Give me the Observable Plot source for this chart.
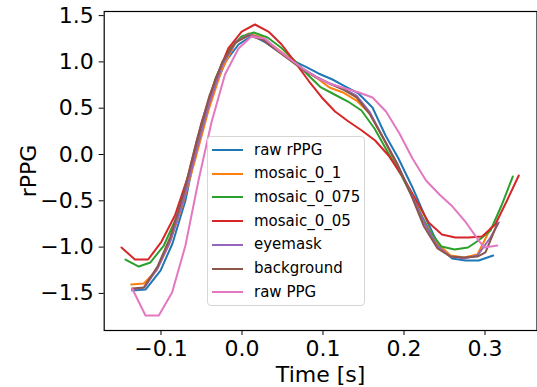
<!DOCTYPE html>
<html><head><meta charset="utf-8">
<script src="https://cdn.jsdelivr.net/npm/d3@7"></script>
<script src="https://cdn.jsdelivr.net/npm/@observablehq/plot@0.6"></script>
<style>
html,body{margin:0;padding:0;background:#fff;}
#wrap{position:relative;width:537px;height:387px;font-family:"DejaVu Sans",sans-serif;}
#legend{position:absolute;left:207px;top:136px;width:158px;height:170px;box-sizing:border-box;border:1px solid #d6d6d6;border-radius:4px;background:rgba(255,255,255,0.8);}
.row{position:absolute;left:0;height:24px;display:flex;align-items:center;}
.sw{width:31px;height:2px;margin-left:4px;}
.lb{margin-left:11px;font-size:15px;color:#000;white-space:nowrap;line-height:1;}
</style></head><body><div id="wrap"></div>
<script>
const seriesNames = ["raw rPPG","mosaic_0_1","mosaic_0_075","mosaic_0_05","eyemask","background","raw PPG"];
const seriesColors = ["#1f77b4","#ff7f0e","#2ca02c","#d62728","#9467bd","#8c564b","#e377c2"];
const xTicks = [-0.1, 0.0, 0.1, 0.2, 0.3];
const yTicks = [-1.5, -1.0, -0.5, 0.0, 0.5, 1.0, 1.5];

const tRawRPPG = [-0.1356,-0.1191,-0.1006,-0.0858,-0.0698,-0.0537,-0.0364,-0.0204,-0.0043,0.0126,0.0290,0.0451,0.0623,0.0784,0.0944,0.1117,0.1278,0.1438,0.1611,0.1772,0.1932,0.2105,0.2265,0.2426,0.2595,0.2759,0.2923,0.3101];
const vRawRPPG = [-1.469,-1.458,-1.253,-0.961,-0.497,0.184,0.659,1.004,1.188,1.285,1.210,1.112,1.015,0.950,0.875,0.810,0.734,0.659,0.508,0.205,-0.043,-0.356,-0.680,-0.983,-1.123,-1.145,-1.145,-1.091];

const tMosaic01 = [-0.1368,-0.1212,-0.1056,-0.0895,-0.0735,-0.0574,-0.0414,-0.0253,-0.0086,0.0080,0.0247,0.0414,0.0580,0.0747,0.0914,0.1080,0.1247,0.1414,0.1580,0.1747,0.1914,0.2080,0.2247,0.2414,0.2574,0.2741,0.2907,0.3074];
const vMosaic01 = [-1.404,-1.393,-1.253,-0.961,-0.551,-0.043,0.475,0.907,1.199,1.307,1.263,1.156,1.048,0.929,0.832,0.724,0.670,0.583,0.443,0.173,-0.119,-0.389,-0.713,-0.961,-1.091,-1.112,-1.080,-0.788];

const tMosaic0075 = [-0.1438,-0.1274,-0.1130,-0.0965,-0.0809,-0.0648,-0.0488,-0.0327,-0.0167,-0.0006,0.0146,0.0315,0.0481,0.0648,0.0809,0.0975,0.1142,0.1309,0.1475,0.1636,0.1802,0.1969,0.2130,0.2296,0.2463,0.2623,0.2790,0.2920,0.3068,0.3204,0.3343];
const vMosaic0075 = [-1.134,-1.210,-1.166,-0.983,-0.680,-0.227,0.346,0.821,1.123,1.274,1.317,1.263,1.156,1.015,0.864,0.724,0.648,0.572,0.475,0.281,0.022,-0.227,-0.508,-0.799,-0.994,-1.026,-1.004,-0.929,-0.821,-0.551,-0.238];

const tMosaic005 = [-0.1488,-0.1322,-0.1158,-0.0993,-0.0828,-0.0663,-0.0499,-0.0333,-0.0169,-0.0004,0.0160,0.0326,0.0490,0.0656,0.0820,0.0985,0.1149,0.1315,0.1479,0.1644,0.1809,0.1974,0.2138,0.2304,0.2468,0.2633,0.2798,0.2963,0.3127,0.3272,0.3417];
const vMosaic005 = [-1.004,-1.134,-1.134,-0.940,-0.659,-0.227,0.346,0.799,1.145,1.328,1.404,1.328,1.188,0.994,0.799,0.616,0.464,0.356,0.259,0.151,-0.011,-0.227,-0.475,-0.734,-0.864,-0.896,-0.896,-0.886,-0.756,-0.497,-0.227];

const tEyemask = [-0.1356,-0.1204,-0.1043,-0.0883,-0.0722,-0.0562,-0.0401,-0.0241,-0.0080,0.0080,0.0247,0.0414,0.0580,0.0747,0.0914,0.1080,0.1247,0.1414,0.1580,0.1747,0.1914,0.2080,0.2247,0.2414,0.2574,0.2741,0.2907,0.3068,0.3170];
const vEyemask = [-1.458,-1.436,-1.231,-0.929,-0.497,0.043,0.562,0.972,1.210,1.296,1.253,1.145,1.037,0.929,0.842,0.767,0.713,0.637,0.454,0.173,-0.097,-0.410,-0.734,-0.994,-1.102,-1.123,-1.091,-0.896,-0.734];

const tBackground = [-0.1356,-0.1212,-0.1043,-0.0883,-0.0722,-0.0562,-0.0401,-0.0241,-0.0080,0.0080,0.0247,0.0414,0.0580,0.0747,0.0914,0.1080,0.1247,0.1414,0.1580,0.1747,0.1914,0.2080,0.2247,0.2414,0.2574,0.2741,0.2907,0.3006,0.3154];
const vBackground = [-1.447,-1.436,-1.210,-0.886,-0.421,0.140,0.637,1.004,1.210,1.285,1.242,1.134,1.026,0.918,0.832,0.767,0.702,0.616,0.432,0.173,-0.097,-0.421,-0.778,-1.015,-1.102,-1.112,-1.102,-1.058,-0.745];

const tRawPPG = [-0.1356,-0.1191,-0.1027,-0.0863,-0.0698,-0.0537,-0.0377,-0.0210,-0.0043,0.0117,0.0284,0.0451,0.0617,0.0784,0.0944,0.1111,0.1278,0.1444,0.1611,0.1778,0.1944,0.2105,0.2272,0.2438,0.2599,0.2765,0.2932,0.2994,0.3151];
const vRawPPG = [-1.447,-1.739,-1.739,-1.490,-0.983,-0.281,0.346,0.864,1.145,1.274,1.253,1.123,1.015,0.907,0.821,0.756,0.713,0.670,0.616,0.464,0.227,-0.043,-0.281,-0.432,-0.562,-0.734,-0.940,-1.004,-0.983];

const seriesT = [tRawRPPG, tMosaic01, tMosaic0075, tMosaic005, tEyemask, tBackground, tRawPPG];
const seriesV = [vRawRPPG, vMosaic01, vMosaic0075, vMosaic005, vEyemask, vBackground, vRawPPG];

const rows = [];
seriesNames.forEach((name, i) => {
  seriesT[i].forEach((t, j) => rows.push({series: name, t, v: seriesV[i][j]}));
});

const fmt = d3.format(".1f");
const chart = Plot.plot({
  width: 537,
  height: 387,
  marginLeft: 103.7,
  marginRight: 0.5,
  marginTop: 11,
  marginBottom: 57,
  style: {fontFamily: "DejaVu Sans", fontSize: "22px", color: "#000", background: "#fff"},
  x: {domain: [-0.1701, 0.3642]},
  y: {domain: [-1.9006, 1.5443]},
  color: {domain: seriesNames, range: seriesColors},
  marks: [
    Plot.line(rows, {x: "t", y: "v", z: "series", stroke: "series", strokeWidth: 2, curve: "linear"}),
    Plot.frame({stroke: "#000", strokeWidth: 1.2}),
    Plot.axisX({ticks: xTicks, tickFormat: fmt, tickSize: 5, tickPadding: 5, label: "Time [s]", labelAnchor: "center", labelArrow: "none", labelOffset: 51}),
    Plot.axisY({ticks: yTicks, tickFormat: fmt, tickSize: 5, tickPadding: 5.5, label: "rPPG", labelAnchor: "center", labelArrow: "none", labelOffset: 84})
  ]
});
const wrap = document.getElementById("wrap");
wrap.appendChild(chart);

const legend = document.createElement("div");
legend.id = "legend";
seriesNames.forEach((name, i) => {
  const r = document.createElement("div");
  r.className = "row";
  r.style.top = (14 + 23.7 * i - 12 - 1) + "px";
  const sw = document.createElement("div");
  sw.className = "sw";
  sw.style.background = seriesColors[i];
  const lb = document.createElement("span");
  lb.className = "lb";
  lb.textContent = name;
  r.appendChild(sw); r.appendChild(lb);
  legend.appendChild(r);
});
wrap.appendChild(legend);
</script></body></html>
